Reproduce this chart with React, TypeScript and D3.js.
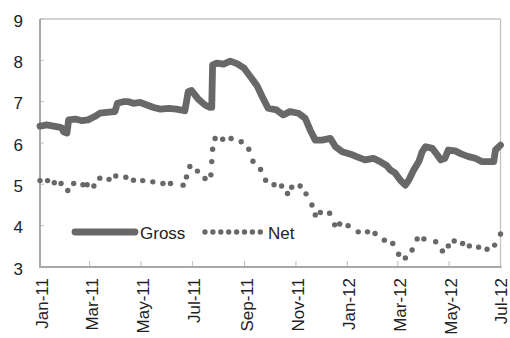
import React from "react";
import * as d3 from "d3";

const grossDates = [
  "2011-01-01","2011-01-09","2011-01-17","2011-01-25","2011-01-27","2011-01-29","2011-02-02","2011-02-03","2011-02-04",
  "2011-02-12","2011-02-20","2011-02-27","2011-03-07","2011-03-13","2011-03-21","2011-03-31","2011-04-03","2011-04-10",
  "2011-04-16","2011-04-22","2011-04-30","2011-05-08","2011-05-16","2011-05-24","2011-06-03","2011-06-12","2011-06-22",
  "2011-06-24","2011-06-26","2011-06-30","2011-07-08","2011-07-16","2011-07-22","2011-07-24","2011-07-25","2011-07-30",
  "2011-08-07","2011-08-15","2011-08-23","2011-08-31","2011-09-10","2011-09-16","2011-09-22","2011-09-29","2011-10-09",
  "2011-10-17","2011-10-25","2011-11-04","2011-11-12","2011-11-18","2011-11-24","2011-12-02","2011-12-12","2011-12-18",
  "2011-12-26","2012-01-05","2012-01-12","2012-01-22","2012-02-01","2012-02-09","2012-02-17","2012-02-21","2012-02-27",
  "2012-03-04","2012-03-10","2012-03-14","2012-03-20","2012-03-26","2012-03-30","2012-04-03","2012-04-11","2012-04-17",
  "2012-04-21","2012-04-26","2012-04-30","2012-05-08","2012-05-16","2012-05-24","2012-06-01","2012-06-09","2012-06-17",
  "2012-06-23","2012-06-25","2012-07-01"
];
const grossValues = [
  6.41,6.44,6.41,6.38,6.36,6.27,6.24,6.40,6.56,
  6.58,6.54,6.56,6.64,6.72,6.74,6.76,6.96,7.00,
  7.00,6.96,6.98,6.92,6.86,6.82,6.84,6.82,6.78,
  7.00,7.24,7.27,7.06,6.92,6.86,6.86,7.89,7.93,
  7.91,7.98,7.92,7.82,7.55,7.38,7.12,6.84,6.80,
  6.68,6.76,6.72,6.60,6.31,6.07,6.07,6.11,5.91,
  5.79,5.73,5.67,5.59,5.63,5.55,5.45,5.35,5.27,
  5.10,4.98,5.10,5.35,5.55,5.79,5.91,5.87,5.71,
  5.59,5.63,5.83,5.81,5.73,5.67,5.63,5.55,5.55,
  5.55,5.83,5.95
];

const netDates = [
  "2011-01-01","2011-01-10","2011-01-18","2011-01-26","2011-02-03","2011-02-10","2011-02-21","2011-02-26","2011-03-06",
  "2011-03-13","2011-03-24","2011-04-01","2011-04-13","2011-04-22","2011-05-03","2011-05-15","2011-05-27","2011-06-05",
  "2011-06-20","2011-06-24","2011-06-28","2011-07-07","2011-07-16","2011-07-23","2011-07-24","2011-07-25","2011-07-28",
  "2011-08-06","2011-08-16","2011-08-28","2011-09-06","2011-09-11","2011-09-20","2011-09-26","2011-10-06","2011-10-15",
  "2011-10-22","2011-10-27","2011-11-06","2011-11-13","2011-11-20","2011-11-24","2011-11-30","2011-12-11","2011-12-17",
  "2011-12-23","2012-01-02","2012-01-14","2012-01-25","2012-02-03","2012-02-14","2012-02-24","2012-03-02","2012-03-10",
  "2012-03-18","2012-03-24","2012-04-01","2012-04-15","2012-04-23","2012-04-30","2012-05-07","2012-05-17","2012-05-25",
  "2012-06-05","2012-06-15","2012-06-24","2012-07-01"
];
const netValues = [
  5.09,5.09,5.04,5.02,4.85,5.02,4.99,4.99,4.96,
  5.15,5.12,5.20,5.17,5.10,5.09,5.06,5.02,5.02,
  4.98,5.18,5.43,5.32,5.14,5.23,5.55,5.85,6.11,
  6.09,6.11,6.03,5.85,5.56,5.36,5.10,4.99,4.96,
  4.78,4.93,4.96,4.77,4.50,4.26,4.32,4.30,4.02,
  4.04,4.00,3.85,3.85,3.81,3.65,3.57,3.31,3.22,
  3.41,3.68,3.68,3.61,3.39,3.51,3.63,3.57,3.51,
  3.48,3.43,3.53,3.80
];

const yTicks = [3, 4, 5, 6, 7, 8, 9];
const seriesNames = ["Gross", "Net"];

const W = 510, H = 338;
const left = 40, right = 500.5, top = 19, bottom = 267;
const FONT = "'Liberation Sans', Arial, sans-serif";
const COLOR = "#686868";

export default function App() {
  const parse = d3.timeParse("%Y-%m-%d");
  const x = d3.scaleTime().domain([parse("2011-01-01")!, parse("2012-07-01")!]).range([left, right]);
  const y = d3.scaleLinear().domain([3, 9]).range([bottom, top]);
  const gross = grossDates.map((d, i) => ({ d: parse(d)!, v: grossValues[i] }));
  const net = netDates.map((d, i) => ({ d: parse(d)!, v: netValues[i] }));
  const line = d3.line<{ d: Date; v: number }>().x(p => x(p.d)).y(p => y(p.v));
  const xTicks = x.ticks(d3.timeMonth.every(2)!);
  const fmt = d3.timeFormat("%b-%y");

  const legY = 232;
  const legendDots = d3.range(8).map(i => 205 + i * 7.9);

  return (
    <svg width={W} height={H} style={{ position: "absolute", left: 0, top: 0 }} fontFamily={FONT}>
      <rect x={0} y={0} width={W} height={H} fill="#fff" />
      {/* frame */}
      <line x1={left} x2={right} y1={top} y2={top} stroke="#c4c4c4" strokeWidth={1.3} />
      <line x1={right} x2={right} y1={top} y2={bottom} stroke="#c4c4c4" strokeWidth={1.3} />
      {/* y ticks */}
      {yTicks.map(t => (
        <g key={t}>
          <line x1={left} x2={left + 4} y1={y(t)} y2={y(t)} stroke="#bdbdbd" strokeWidth={1} />
          <text x={23} y={y(t) + 2} textAnchor="end" dominantBaseline="central" fontSize={17} fill="#222">{t}</text>
        </g>
      ))}
      {/* x ticks */}
      {xTicks.map((t, i) => (
        <g key={i}>
          <line x1={x(t)} x2={x(t)} y1={bottom} y2={bottom - 6} stroke="#bdbdbd" strokeWidth={1} />
          <text transform={`translate(${Math.min(x(t) + 2.5, 501.5)},${bottom + 11}) rotate(-90)`} textAnchor="end" dominantBaseline="central" fontSize={17} fill="#222">{fmt(t)}</text>
        </g>
      ))}
      {/* axes */}
      <line x1={left} x2={left} y1={top} y2={bottom + 1} stroke="#a8a8a8" strokeWidth={2} />
      <line x1={left - 1} x2={right + 1} y1={bottom} y2={bottom} stroke="#a8a8a8" strokeWidth={2} />
      {/* series */}
      <path d={line(gross)!} fill="none" stroke={COLOR} strokeWidth={6.8} strokeLinejoin="round" strokeLinecap="round" />
      {net.map((p, i) => (
        <circle key={i} cx={x(p.d)} cy={y(p.v)} r={2.7} fill={COLOR} />
      ))}
      {/* legend */}
      <line x1={75} x2={135} y1={legY} y2={legY} stroke={COLOR} strokeWidth={6.8} strokeLinecap="round" />
      <text x={140} y={legY + 1} dominantBaseline="central" fontSize={17} fill="#222">{seriesNames[0]}</text>
      {legendDots.map((cx, i) => (
        <circle key={i} cx={cx} cy={legY} r={2.7} fill={COLOR} />
      ))}
      <text x={268} y={legY + 1} dominantBaseline="central" fontSize={17} fill="#222">{seriesNames[1]}</text>
    </svg>
  );
}
